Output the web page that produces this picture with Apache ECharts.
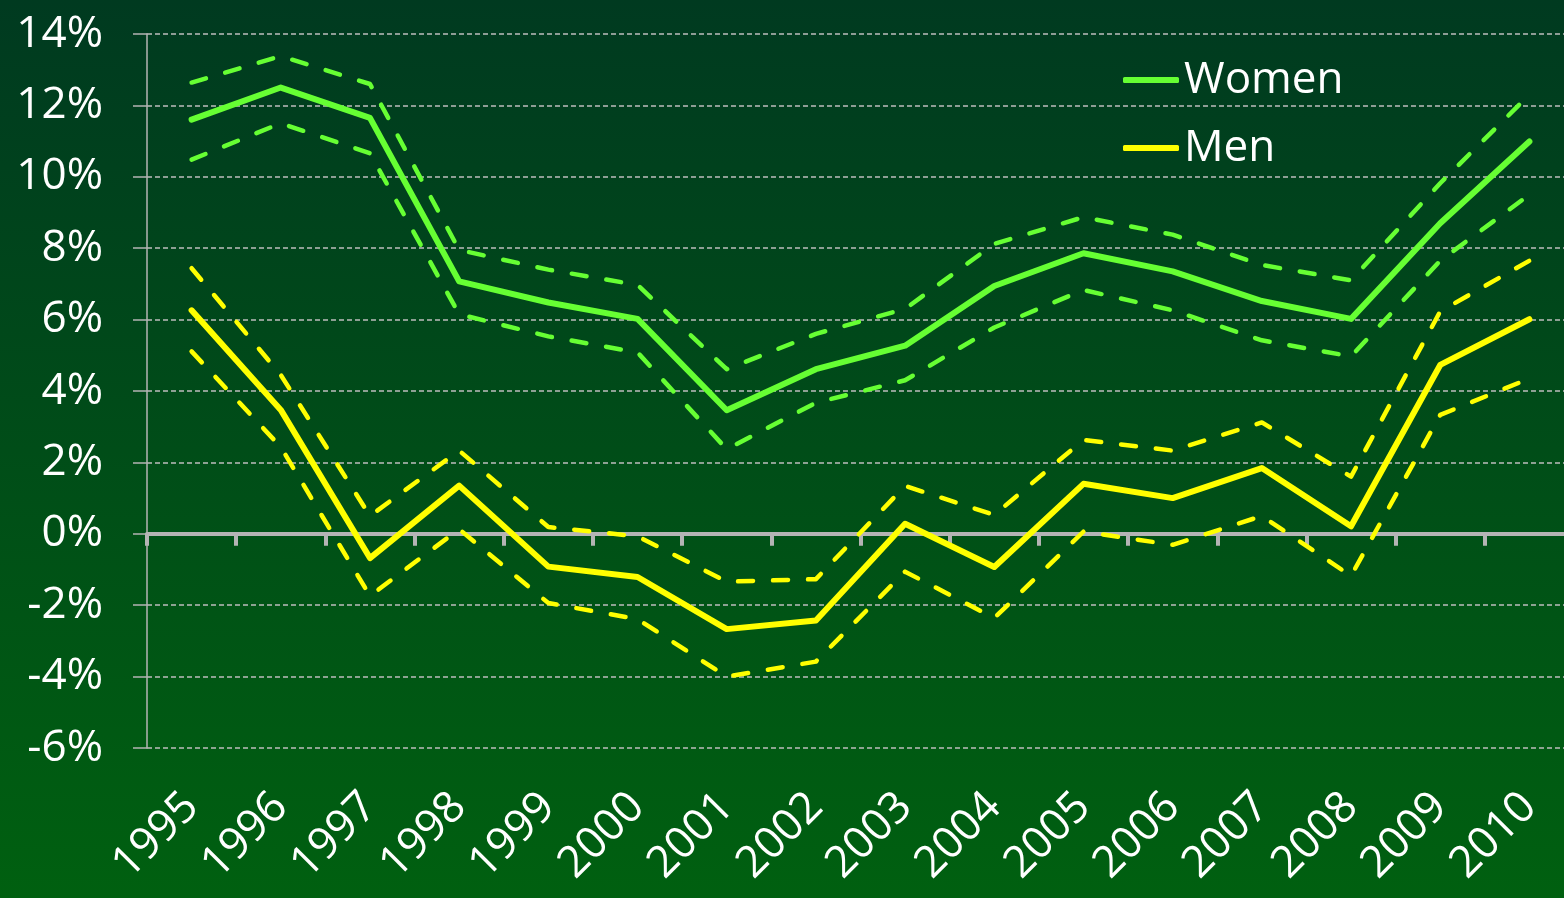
<!DOCTYPE html>
<html>
<head>
<meta charset="utf-8">
<title>Women / Men</title>
<script src="https://cdn.jsdelivr.net/npm/echarts@6/dist/echarts.min.js"></script>
<style>
  html, body { margin: 0; padding: 0; overflow: hidden; }
  #chart { width: 1576px; height: 898px; }
</style>
</head>
<body>
<div id="chart"></div>
<script>
// categories
const years = ['1995', '1996', '1997', '1998', '1999', '2000', '2001', '2002',
  '2003', '2004', '2005', '2006', '2007', '2008', '2009', '2010'];

// values in %
const womenMid = [11.6, 12.5, 11.65, 7.07, 6.48, 6.02, 3.46, 4.61, 5.27, 6.94, 7.86, 7.35, 6.52, 6.02, 8.7, 10.99];
const womenHigh = [12.64, 13.38, 12.6, 7.95, 7.4, 6.97, 4.61, 5.6, 6.3, 8.12, 8.87, 8.38, 7.53, 7.1, 9.82, 12.3];
const womenLow = [10.48, 11.5, 10.66, 6.15, 5.53, 5.08, 2.37, 3.67, 4.3, 5.78, 6.83, 6.26, 5.42, 4.97, 7.65, 9.5];

const menMid = [6.26, 3.47, -0.68, 1.35, -0.92, -1.21, -2.67, -2.43, 0.28, -0.93, 1.4, 1.0, 1.84, 0.21, 4.73, 6.01];
const menHigh = [7.44, 4.45, 0.5, 2.33, 0.19, -0.07, -1.34, -1.27, 1.34, 0.53, 2.63, 2.33, 3.12, 1.6, 6.23, 7.65];
const menLow = [5.11, 2.43, -1.74, 0.13, -1.94, -2.39, -4.0, -3.58, -1.06, -2.36, 0.06, -0.31, 0.5, -1.18, 3.33, 4.35];

const green = '#66ff33';
const yellow = '#ffff00';
const grey = '#b4b4b4';
const font = 'Open Sans';

function solid(name, data, color) {
  return {
    name: name,
    type: 'line',
    xAxisIndex: 0,
    data: data,
    symbol: 'none',
    z: 3,
    lineStyle: { color: color, width: 6, join: 'round', cap: 'round' },
    itemStyle: { color: color }
  };
}

function dashed(name, data, color) {
  return {
    name: name,
    type: 'line',
    xAxisIndex: 0,
    data: data,
    symbol: 'none',
    z: 2,
    lineStyle: { color: color, width: 4.5, type: [15, 20], cap: 'round', join: 'round' },
    itemStyle: { color: color }
  };
}

const myChart = echarts.init(document.getElementById('chart'));
myChart.setOption({
  backgroundColor: new echarts.graphic.LinearGradient(0, 0, 0, 1, [
    { offset: 0, color: '#003a20' },
    { offset: 1, color: '#006010' }
  ]),
  animation: false,
  textStyle: { fontFamily: font },
  grid: {
    left: 147,
    right: 2,
    top: 34,
    bottom: 150
  },
  legend: {
    data: ['Women', 'Men'],
    orient: 'vertical',
    left: 1123,
    top: 58,
    padding: 0,
    icon: 'roundRect',
    itemWidth: 56,
    itemHeight: 6,
    itemGap: 24,
    textStyle: { color: '#fff', fontSize: 44, fontFamily: font }
  },
  xAxis: [
    {
      type: 'category',
      data: years,
      position: 'bottom',
      axisLine: { show: false, onZero: false },
      axisTick: { show: false },
      axisLabel: {
        rotate: 45,
        interval: 0,
        margin: 52,
        color: '#fff',
        fontSize: 44,
        fontFamily: font
      },
      splitLine: { show: false }
    },
    {
      type: 'category',
      data: years,
      position: 'top',
      axisLine: { show: true, onZero: true, onZeroAxisIndex: 0, lineStyle: { color: grey, width: 4 } },
      axisTick: { show: true, inside: true, length: 12, lineStyle: { color: grey, width: 4 } },
      axisLabel: { show: false },
      splitLine: { show: false }
    }
  ],
  yAxis: {
    type: 'value',
    min: -6,
    max: 14,
    interval: 2,
    axisLine: { show: true, lineStyle: { color: grey, width: 1.5 } },
    axisTick: { show: true, length: 14, lineStyle: { color: grey, width: 1.5 } },
    axisLabel: {
      formatter: '{value}%',
      color: '#fff',
      fontSize: 44,
      margin: 44,
      fontFamily: font
    },
    splitLine: {
      lineStyle: { color: '#bdbdbd', width: 1.5, type: [5, 3] }
    }
  },
  series: [
    dashed('Women high', womenHigh, green),
    dashed('Women low', womenLow, green),
    dashed('Men high', menHigh, yellow),
    dashed('Men low', menLow, yellow),
    solid('Women', womenMid, green),
    solid('Men', menMid, yellow)
  ]
});
</script>
</body>
</html>
